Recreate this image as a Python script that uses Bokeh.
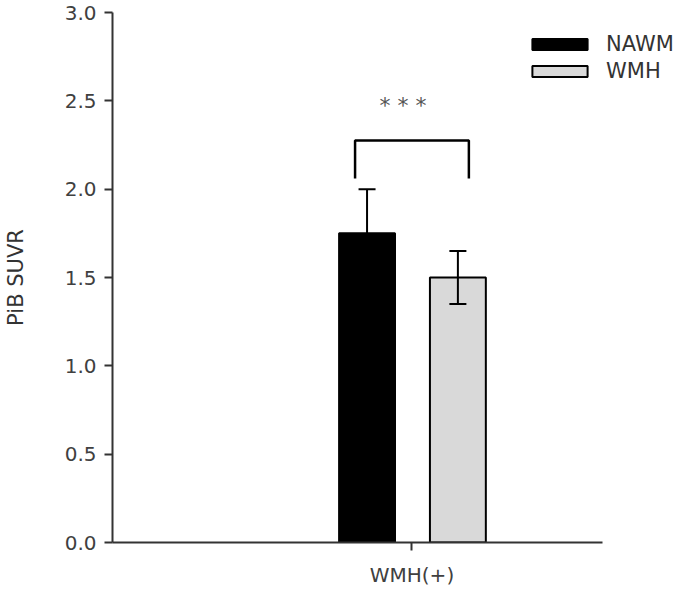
from bokeh.plotting import figure
from bokeh.models import (Range1d, FixedTicker, NumeralTickFormatter, Whisker, TeeHead,
                          ColumnDataSource, Legend, LegendItem)
from bokeh.core.properties import value
from bokeh.embed import file_html
from bokeh.resources import INLINE

# ---- data ----
categories = ["WMH(+)"]
series = ["NAWM", "WMH"]
means = [1.75, 1.50]
errors = [0.25, 0.15]
y_ticks = [0.0, 0.5, 1.0, 1.5, 2.0, 2.5, 3.0]
significance = "* * *"

# ---- styling / layout ----
FONT = "DejaVu Sans"
cat_x = 0.0
offsets = [-0.45, 0.46]
bar_width = 0.56
fills = ["#000000", "#d9d9d9"]
axis_start = -3.0
axis_end = 1.91

p = figure(width=676, height=589, x_range=Range1d(axis_start, 2.65), y_range=Range1d(0, 3.0),
           output_backend="svg", toolbar_location=None,
           min_border_left=111, min_border_top=12, min_border_right=0, min_border_bottom=46)
p.outline_line_color = None
p.grid.visible = False
p.background_fill_color = "white"

renderers = []
for i, name in enumerate(series):
    src = ColumnDataSource(dict(x=[cat_x + offsets[i]], top=[means[i]],
                                lower=[means[i] - errors[i]], upper=[means[i] + errors[i]]))
    r = p.vbar(x="x", top="top", width=bar_width, source=src, fill_color=fills[i],
               line_color="black", line_width=2)
    renderers.append(r)
    w = Whisker(base="x", upper="upper", lower="lower", source=src, line_color="black",
                line_width=2, level="overlay",
                upper_head=TeeHead(size=17, line_color="black", line_width=2),
                lower_head=TeeHead(size=17, line_color="black", line_width=2))
    p.add_layout(w)

# significance bracket
tops = [m + e for m, e in zip(means, errors)]
leg_bottom = max(tops) + 0.06
bracket_top = max(tops) + 0.275
bx0 = cat_x + offsets[0] - 0.12
bx1 = cat_x + offsets[1] + 0.11
p.line(x=[bx0, bx0, bx1, bx1], y=[leg_bottom, bracket_top, bracket_top, leg_bottom],
       line_color="black", line_width=2.5)
p.text(x=[cat_x - 0.09], y=[bracket_top + 0.2], text=[significance], text_font=value(FONT),
       text_font_size="22px", text_color="#555555", text_align="center", text_baseline="middle")

# axes
p.yaxis.ticker = FixedTicker(ticks=y_ticks)
p.yaxis.formatter = NumeralTickFormatter(format="0.0")
p.xaxis.ticker = FixedTicker(ticks=[cat_x])
p.xaxis.major_label_overrides = {cat_x: categories[0]}
p.xaxis.bounds = (axis_start, axis_end)
for ax in (p.xaxis, p.yaxis):
    ax.axis_line_color = "#333333"
    ax.axis_line_width = 2
    ax.major_tick_line_color = "#333333"
    ax.major_tick_line_width = 2
    ax.major_tick_in = 0
    ax.major_tick_out = 8
    ax.minor_tick_line_color = None
    ax.major_label_text_font = FONT
    ax.major_label_text_font_size = "20px"
    ax.major_label_text_color = "#404040"
p.yaxis.major_label_standoff = 8
p.xaxis.major_label_standoff = 12
p.yaxis.axis_label = "PiB SUVR"
p.yaxis.axis_label_text_font = FONT
p.yaxis.axis_label_text_font_size = "21px"
p.yaxis.axis_label_text_font_style = "normal"
p.yaxis.axis_label_text_color = "#333333"
p.yaxis.axis_label_standoff = 34

legend = Legend(items=[LegendItem(label=s, renderers=[r]) for s, r in zip(series, renderers)],
                location=(413, 459), glyph_width=69, glyph_height=14, label_standoff=12,
                spacing=3, padding=0, margin=0, border_line_color=None,
                background_fill_alpha=0, label_text_font=FONT, label_text_font_size="21px",
                label_text_color="#333333", label_height=20)
p.add_layout(legend)

open("out.html", "w").write(file_html(p, INLINE))
